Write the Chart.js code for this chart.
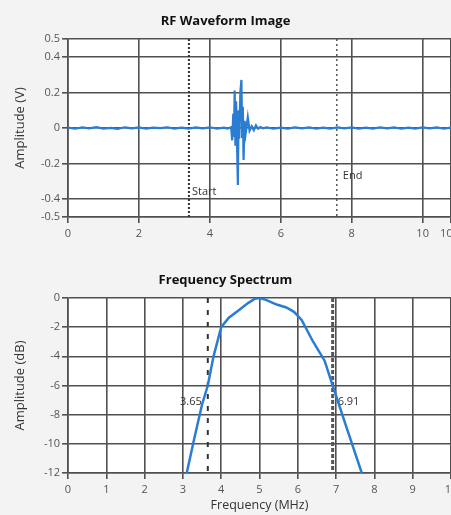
<!DOCTYPE html>
<html>
<head>
<meta charset="utf-8">
<script src="https://cdn.jsdelivr.net/npm/chart.js@4.4.1/dist/chart.umd.min.js"></script>
<style>
    html, body { margin: 0; padding: 0; width: 451px; height: 515px; overflow: hidden; background: #f2f3f2; }
    canvas { position: absolute; left: 0; }
    #rf { top: 0; }
    #fs { top: 262px; }
</style>
</head>
<body>
<canvas id="rf" width="480" height="250"></canvas>
<canvas id="fs" width="480" height="253"></canvas>
<script>
// RF 波形 (时间 us / 幅值 V)
const RF_TIME = [
    0, 0.2, 0.4, 0.6, 0.8, 1.0, 1.2, 1.4, 1.6, 1.8, 2.0, 2.2, 2.4, 2.6, 2.8, 3.0, 3.2, 3.4, 3.6, 3.8, 4.0, 4.2, 4.4,
    4.5, 4.6, 4.63, 4.66, 4.68, 4.70, 4.72, 4.74, 4.77, 4.79, 4.81, 4.83, 4.86, 4.89, 4.91, 4.93, 4.95, 4.98,
    5.01, 5.07, 5.12, 5.18, 5.24, 5.3, 5.36, 5.42, 5.5,
    5.6, 5.8, 6.0, 6.2, 6.4, 6.6, 6.8, 7.0, 7.2, 7.4, 7.6, 7.8, 8.0, 8.2, 8.4, 8.6, 8.8, 9.0, 9.2, 9.4, 9.6,
    9.8, 10.0, 10.2, 10.4, 10.6, 10.8
];
const RF_AMP = [
    0.002, -0.004, 0.003, -0.002, 0.005, -0.003, 0.001, -0.005, 0.004, -0.002, 0.003, -0.004, 0.002, -0.001, 0.004, -0.003, 0.002, -0.004, 0.003, -0.002, 0.004, -0.003, 0.002,
    -0.003, 0.004, -0.07, 0.08, -0.05, 0.21, -0.1, 0.15, -0.12, -0.32, 0.1, -0.06, 0.2, 0.27, -0.05, 0.12, -0.18, 0.04,
    -0.03, 0.06, -0.015, 0.01, -0.012, 0.015, -0.004, 0.005, -0.002,
    0.003, -0.004, 0.002, -0.003, 0.004, -0.002, 0.003, -0.004, 0.002, -0.003, 0.004, -0.002, 0.003, -0.004, 0.002, -0.003, 0.004, -0.002, 0.003, -0.004, 0.002,
    -0.003, 0.004, -0.002, 0.003, -0.004, 0.002
];
const RF_X_TICKS = [0, 2, 4, 6, 8, 10, 10.8];
const RF_Y_TICKS = [0.5, 0.4, 0.2, 0, -0.2, -0.4, -0.5];
const RF_MARKERS = [3.41, 7.58];
const RF_MARKER_LABELS = ['Start', 'End'];
const RF_LABEL_Y = [-0.36, -0.27];

// 频谱 (MHz / dB)
const FREQ_MHZ = [3.1, 3.3, 3.5, 3.65, 3.8, 4.0, 4.2, 4.45, 4.7, 4.88, 5.0, 5.12, 5.45, 5.7, 5.9, 6.1, 6.4, 6.7, 6.91, 7.3, 7.67];
const SPECTRUM_DB = [-12, -9.6, -7.3, -6, -4, -2, -1.35, -0.85, -0.35, -0.05, 0, -0.08, -0.45, -0.65, -0.95, -1.5, -3.0, -4.3, -6, -9.1, -12];
const FS_X_TICKS = [0, 1, 2, 3, 4, 5, 6, 7, 8, 9, 10];
const FS_Y_TICKS = [0, -2, -4, -6, -8, -10, -12];
const FS_MARKERS = [3.65, 6.91];
const FS_MARKER_LABELS = ['3.65', '6.91'];
const FS_LABEL_Y = [-7.1, -7.1];

const LINE_BLUE = '#2a7dd1';
const GRID = '#505050';
const TICK_TEXT = '#555555';
const FONT = "'Open Sans', 'DejaVu Sans', sans-serif";

function toPoints(xs, ys) {
    return xs.map((x, i) => ({ x: x, y: ys[i] }));
}

// 白色绘图区
const plotBg = {
    id: 'plotBg',
    beforeDraw(chart) {
        const { ctx, chartArea: a } = chart;
        ctx.save();
        ctx.fillStyle = '#ffffff';
        ctx.fillRect(a.left, a.top, a.right - a.left, a.bottom - a.top);
        ctx.restore();
    }
};

// 竖直标记线 + 文字
const markers = {
    id: 'markers',
    beforeDatasetsDraw(chart, args, opts) {
        const { ctx, chartArea: a, scales } = chart;
        ctx.save();
        opts.xs.forEach((v, i) => {
            const px = scales.x.getPixelForValue(v);
            const st = opts.styles[i];
            ctx.strokeStyle = st.color;
            ctx.lineWidth = st.width;
            ctx.setLineDash(st.dash);
            ctx.beginPath();
            ctx.moveTo(px, a.top);
            ctx.lineTo(px, a.bottom);
            ctx.stroke();

            ctx.setLineDash([]);
            ctx.fillStyle = '#333333';
            ctx.font = '11px ' + FONT;
            ctx.textBaseline = 'middle';
            ctx.textAlign = st.align;
            ctx.fillText(opts.labels[i], px + st.dx, scales.y.getPixelForValue(opts.labelYs[i]));
        });
        ctx.restore();
    }
};

function axisCommon(ticks, pad, extra) {
    return Object.assign({
        type: 'linear',
        min: Math.min(...ticks),
        max: Math.max(...ticks),
        afterBuildTicks: (scale) => { scale.ticks = ticks.map(v => ({ value: v })); },
        grid: { color: GRID, lineWidth: 1.6, tickLength: 6, tickColor: GRID },
        border: { color: GRID, width: 1.6 },
        ticks: {
            color: TICK_TEXT,
            font: { family: FONT, size: 11 },
            padding: pad,
            autoSkip: false,
            maxRotation: 0,
            callback: (v) => String(v)
        }
    }, extra);
}

function createChart(id, cfg) {
    const ctx = document.getElementById(id);
    return new Chart(ctx, {
        type: 'line',
        data: {
            datasets: [{
                data: cfg.points,
                borderColor: LINE_BLUE,
                borderWidth: cfg.lineWidth,
                pointRadius: 0,
                tension: 0,
                fill: false
            }]
        },
        options: {
            responsive: false,
            animation: false,
            devicePixelRatio: 1,
            layout: { padding: { left: 0, right: 29, top: 0, bottom: 0 } },
            plugins: {
                legend: { display: false },
                tooltip: { enabled: false },
                title: {
                    display: true,
                    text: cfg.title,
                    color: '#111111',
                    font: { family: FONT, size: 13, weight: 'bold' },
                    padding: cfg.titlePad
                },
                markers: cfg.markers
            },
            scales: {
                x: axisCommon(cfg.xTicks, 4, {
                    afterFit: (s) => { s.height = cfg.xHeight; },
                    title: cfg.xTitle
                }),
                y: axisCommon(cfg.yTicks, 2, {
                    afterFit: (s) => { s.width = 68; },
                    title: {
                        display: true,
                        text: cfg.yTitle,
                        color: '#333333',
                        font: { family: FONT, size: 13 },
                        padding: { top: 12, bottom: 0 }
                    }
                })
            }
        },
        plugins: [plotBg, markers]
    });
}

createChart('rf', {
    title: 'RF Waveform Image',
    titlePad: { top: 13, bottom: 10.4 },
    points: toPoints(RF_TIME, RF_AMP),
    lineWidth: 2.2,
    xTicks: RF_X_TICKS,
    yTicks: RF_Y_TICKS,
    xHeight: 33,
    xTitle: { display: false },
    yTitle: 'Amplitude (V)',
    markers: {
        xs: RF_MARKERS,
        labels: RF_MARKER_LABELS,
        labelYs: RF_LABEL_Y,
        styles: [
            { color: '#333333', width: 2, dash: [2, 2], align: 'left', dx: 3 },
            { color: '#555555', width: 1.5, dash: [2, 3], align: 'left', dx: 6 }
        ]
    }
});

createChart('fs', {
    title: 'Frequency Spectrum',
    titlePad: { top: 10.4, bottom: 10 },
    points: toPoints(FREQ_MHZ, SPECTRUM_DB),
    lineWidth: 2.5,
    xTicks: FS_X_TICKS,
    yTicks: FS_Y_TICKS,
    xHeight: 42,
    xTitle: {
        display: true,
        text: 'Frequency (MHz)',
        color: '#333333',
        font: { family: FONT, size: 12.5 },
        padding: { top: 0, bottom: 2 }
    },
    yTitle: 'Amplitude (dB)',
    markers: {
        xs: FS_MARKERS,
        labels: FS_MARKER_LABELS,
        labelYs: FS_LABEL_Y,
        styles: [
            { color: '#333333', width: 2, dash: [5, 7], align: 'right', dx: -6 },
            { color: '#555555', width: 3, dash: [4, 2], align: 'left', dx: 5 }
        ]
    }
});
</script>
</body>
</html>
